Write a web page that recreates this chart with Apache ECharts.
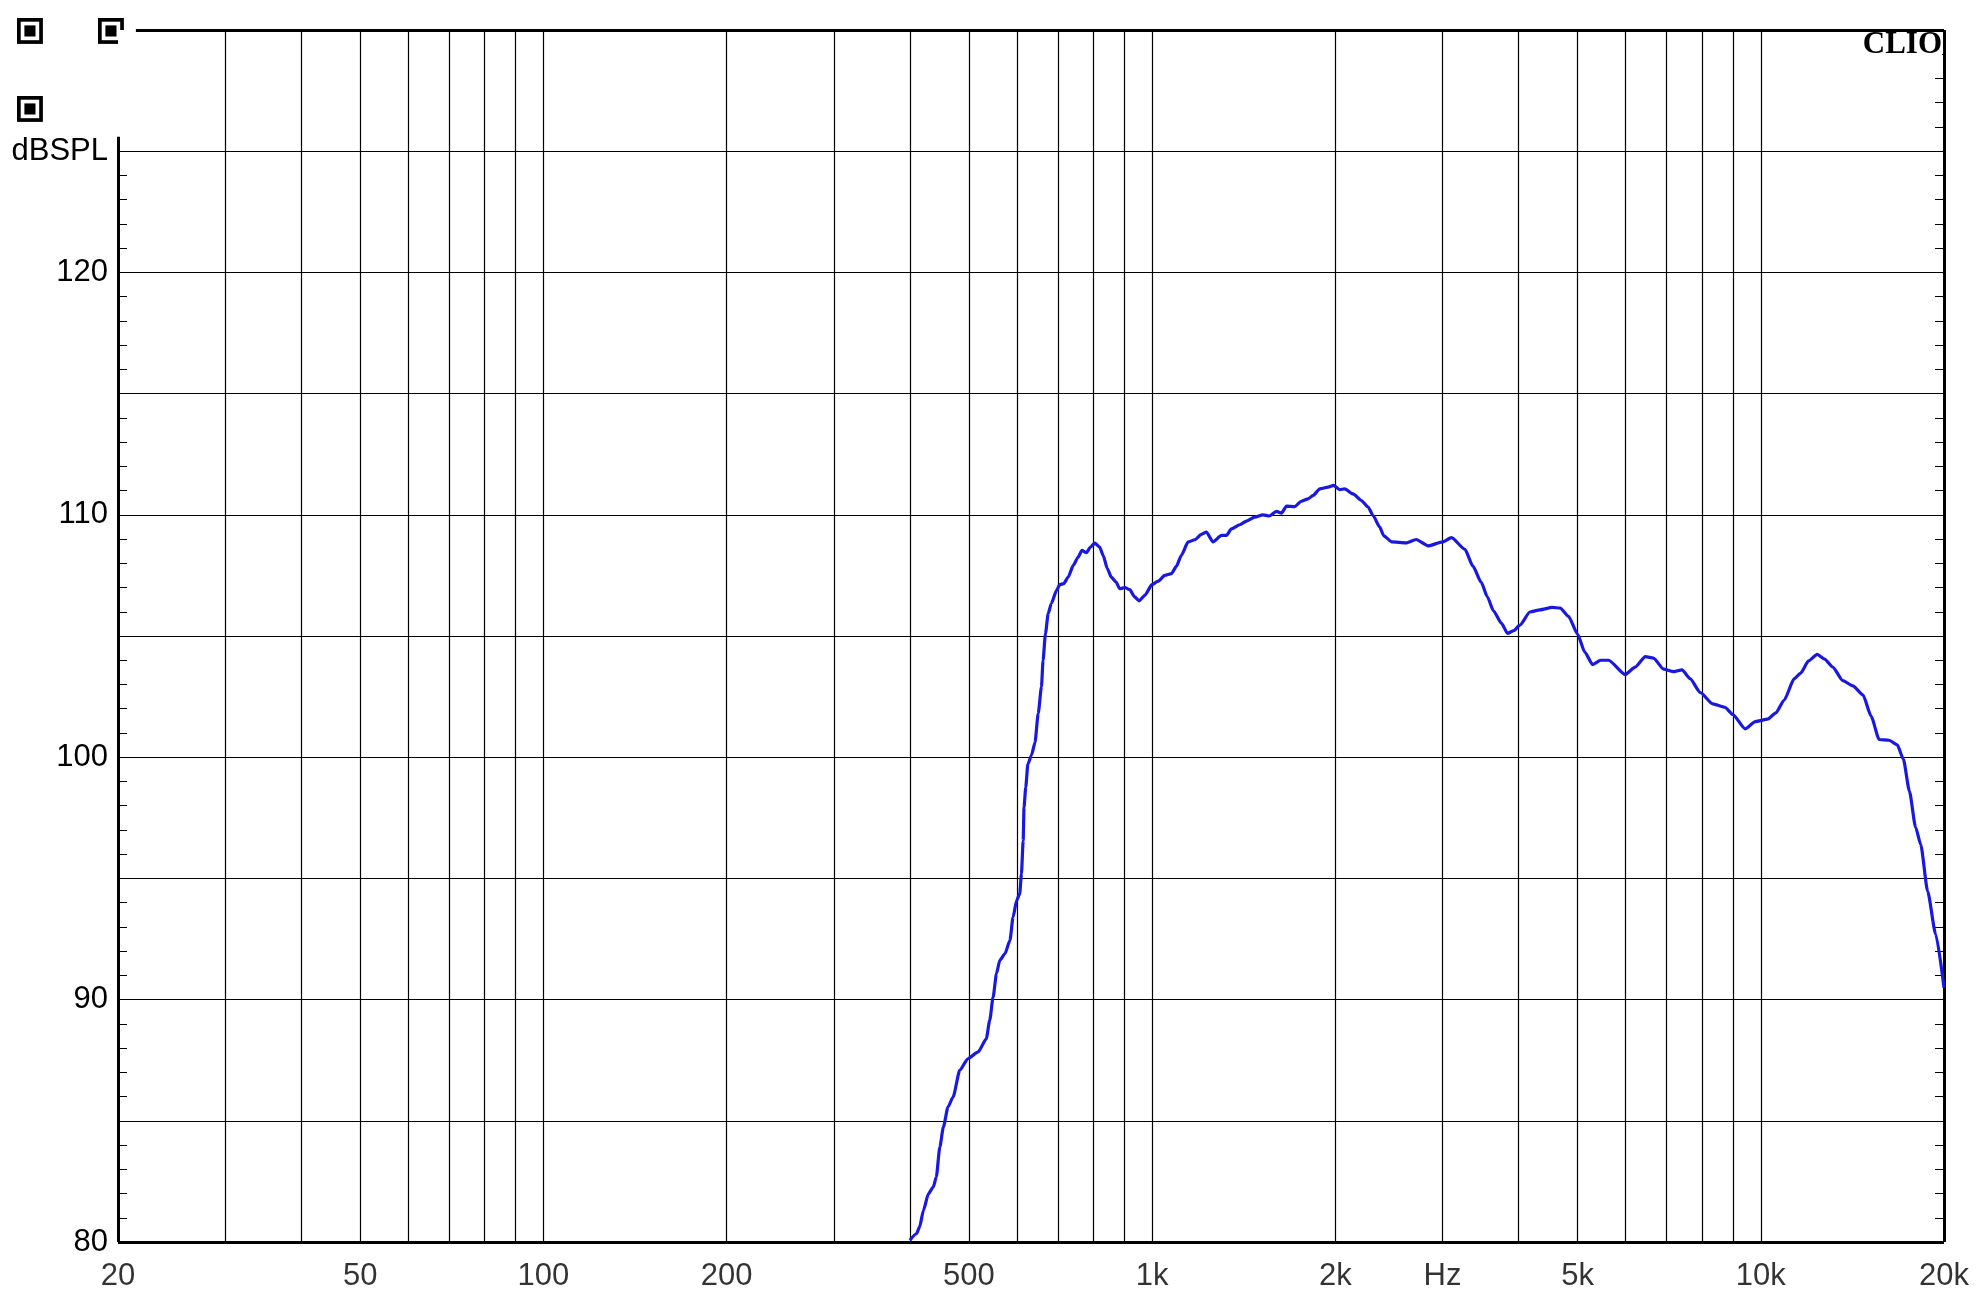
<!DOCTYPE html>
<html><head><meta charset="utf-8">
<script src="https://cdn.jsdelivr.net/npm/echarts@6/dist/echarts.min.js"></script>
<style>html,body{margin:0;padding:0;background:#fff}#c{width:1986px;height:1314px}</style>
</head><body><div id="c"></div>
<script>
// Frequency response (Hz) and SPL (dB)
const freqs = [400,410,415,421,429,437,442,448,454,462,471,483,498,518,534,541,548,555,562,573,584,591,599,606,610,614,616,620,625,634,642,650,658,662,668,675,683,697,705,716,728,742,756,767,780,792,805,820,831,844,857,872,885,902,919,936,952,973,1000,1023,1049,1076,1096,1117,1146,1175,1205,1228,1259,1300,1325,1350,1393,1429,1474,1521,1557,1600,1631,1663,1715,1759,1804,1839,1886,1946,1987,2033,2072,2139,2207,2264,2307,2366,2402,2477,2613,2715,2842,3000,3104,3266,3366,3474,3554,3637,3750,3837,3928,4020,4176,4338,4542,4684,4832,5000,5138,5292,5459,5624,5987,6220,6462,6664,6926,7198,7422,7654,7955,8337,8727,8999,9425,9797,10260,10590,10920,11350,11620,11980,12380,12730,13130,13640,14170,14720,15180,15650,16250,16760,17150,17550,17960,18320,18800,19380,20000];
const spl = [80.07,80.34,80.62,81.31,81.99,82.27,82.68,83.92,84.74,85.57,85.98,87.08,87.56,87.84,88.38,89.14,90.1,91.07,91.62,91.89,92.44,93.4,94.09,94.36,95.19,96.56,97.94,98.76,99.72,100.1,100.6,101.81,102.91,104.0,105.1,105.93,106.34,106.89,107.12,107.16,107.43,107.91,108.26,108.53,108.44,108.67,108.83,108.67,108.33,107.78,107.43,107.23,106.95,107.0,106.91,106.61,106.45,106.68,107.13,107.26,107.5,107.57,107.87,108.33,108.88,108.97,109.19,109.29,108.88,109.15,109.15,109.42,109.59,109.74,109.9,110.0,109.95,110.14,110.07,110.36,110.34,110.56,110.66,110.8,111.07,111.14,111.21,111.04,111.07,110.86,110.59,110.32,109.97,109.49,109.13,108.88,108.84,108.98,108.72,108.88,109.06,108.57,107.88,107.21,106.62,106.04,105.52,105.11,105.22,105.45,105.99,106.08,106.18,106.15,105.81,105.08,104.34,103.82,104.0,104.0,103.41,103.72,104.15,104.09,103.63,103.53,103.6,103.24,102.67,102.2,102.06,101.76,101.17,101.47,101.57,101.83,102.35,103.24,103.46,103.97,104.24,104.05,103.72,103.16,102.94,102.57,101.69,100.73,100.7,100.51,99.92,98.59,97.12,96.38,94.47,92.7,90.49];

const xTickValues = [20,50,100,200,500,1000,2000,3000,5000,10000,20000];
const xTickLabels = ['20','50','100','200','500','1k','2k','Hz','5k','10k','20k'];
const freqGrid = [30,40,50,60,70,80,90,100,200,300,400,500,600,700,800,900,1000,2000,3000,4000,5000,6000,7000,8000,9000,10000];
const yLabels = {80:'80',90:'90',100:'100',110:'110',120:'120',125:'dBSPL'};
const yMin = 80, yMax = 130, yStep = 5;
const fMin = 20, fMax = 20000;

const chart = echarts.init(document.getElementById('c'), null, {renderer:'canvas'});
const FONT = '"Liberation Sans", Arial, sans-serif';
const black = '#000';

function finder(x, y) {
  const m = 3.7;
  return {type:'group', x:x, y:y, children:[
    {type:'rect', shape:{x:0,y:0,width:7*m,height:7*m}, style:{fill:black}},
    {type:'rect', shape:{x:m,y:m,width:5*m,height:5*m}, style:{fill:'#fff'}},
    {type:'rect', shape:{x:2*m,y:2*m,width:3*m,height:3*m}, style:{fill:black}}
  ]};
}

chart.setOption({
  animation: false,
  backgroundColor: '#fff',
  title: {
    text: 'CLIO', right: 44, top: 33, padding: 0, z: 6,
    backgroundColor: '#fff',
    textStyle: {fontFamily: '"Liberation Serif", "Times New Roman", serif', fontWeight: 'bold', fontSize: 31, lineHeight: 23, color: black}
  },
  graphic: [finder(17,18), finder(98,18), finder(17,96)],
  grid: {left: 118, right: 42, top: 30, bottom: 72},
  xAxis: {
    type: 'log', logBase: 10, min: fMin, max: fMax,
    axisLine: {show: false}, axisTick: {show: false}, axisLabel: {show: false}, splitLine: {show: false}
  },
  yAxis: [{
    type: 'value', position: 'left', min: yMin, max: yMax, interval: yStep,
    axisLine: {show: false},
    axisTick: {show: false, inside: true},
    minorTick: {show: true, splitNumber: 5, length: 9, lineStyle: {color: black, width: 1}},
    axisLabel: {margin: 10, fontSize: 31, color: black, fontFamily: FONT,
      formatter: v => (yLabels[v] !== undefined ? yLabels[v] : '')},
    splitLine: {show: true, showMinLine: false, showMaxLine: false, lineStyle: {color: black, width: 1.2}}
  }, {
    type: 'value', position: 'right', min: yMin, max: yMax, interval: yStep,
    axisLine: {show: false},
    axisTick: {show: false, inside: true},
    minorTick: {show: true, splitNumber: 5, length: 9, lineStyle: {color: black, width: 1}},
    axisLabel: {show: false},
    splitLine: {show: false}
  }],
  series: [{
    name: 'frame', type: 'line', data: [[fMin, yMin]], symbol: 'none', clip: false, z: 7,
    lineStyle: {opacity: 0}, silent: true,
    markArea: {
      silent: true, z: 7, itemStyle: {color: '#fff', opacity: 1},
      data: [[{coord: [fMin, 125.7]}, {coord: [21.2, yMax]}]]
    },
    markLine: {
      silent: true, z: 7, symbol: ['none','none'], label: {show: false},
      lineStyle: {color: black, width: 1.2, type: 'solid'},
      data: freqGrid.map(f => ({xAxis: f})).concat([
        [{coord: [fMin, yMin], lineStyle: {width: 3, color: black, type: 'solid'}}, {coord: [fMin, 125.6]}],
        [{coord: [21.4, yMax], lineStyle: {width: 3, color: black, type: 'solid'}}, {coord: [fMax, yMax]}],
        [{coord: [fMax, yMin], lineStyle: {width: 3, color: black, type: 'solid'}}, {coord: [fMax, yMax]}],
        [{coord: [fMin, yMin], lineStyle: {width: 3, color: black, type: 'solid'}}, {coord: [fMax, yMin]}]
      ])
    }
  }, {
    name: 'SPL', type: 'line', z: 9,
    data: freqs.map((f, i) => [f, spl[i]]),
    showSymbol: false, symbol: 'none',
    smooth: 0.2, smoothMonotone: 'x',
    lineStyle: {color: '#1818e0', width: 3.2}
  }, {
    name: 'xlabels', type: 'scatter', z: 10, clip: false, silent: true,
    symbolSize: 0,
    data: xTickValues.map((f, i) => ({value: [f, yMin], label: {formatter: xTickLabels[i]}})),
    label: {show: true, position: 'bottom', distance: 19, fontSize: 31, color: black, fontFamily: FONT}
  }]
});
</script></body></html>
